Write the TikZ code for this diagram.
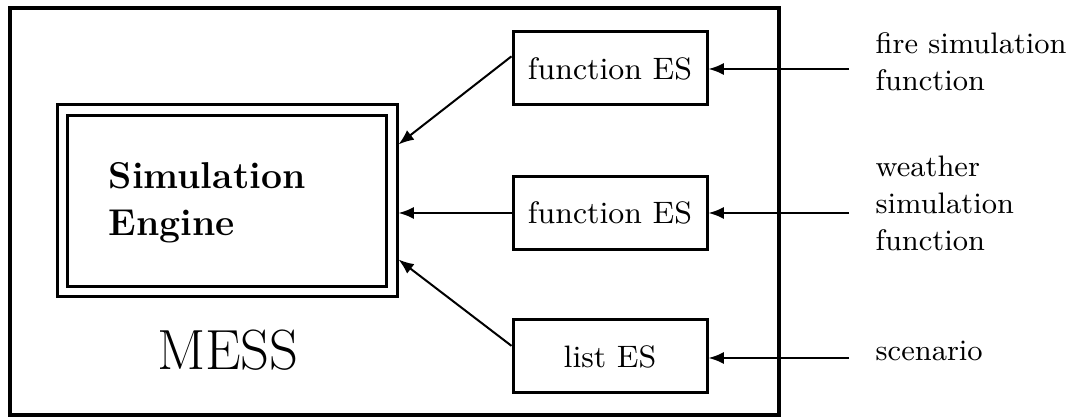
\documentclass[tikz,border=0pt]{standalone}
\usetikzlibrary{arrows.meta,calc}
\begin{document}
\begin{tikzpicture}[x=0.3pt,y=-0.3pt,
  frame/.style={draw,line width=1.2pt,inner sep=0pt},
  esbox/.style={draw,line width=0.9pt,inner sep=0pt,minimum width=58.2pt,minimum height=21.9pt,
                font=\fontsize{9.3}{11}\selectfont},
  link/.style={line width=0.6pt,-{Latex[length=4.6pt,width=3.6pt]}},
  note/.style={inner sep=0pt,align=left,font=\fontsize{8.9}{11.2}\selectfont}]
\useasboundingbox (0,0) rectangle (1071,417);

% MESS system boundary
\draw[line width=1.2pt] (10,8.5) rectangle (779,415);

% simulation engine: double-framed box
\node[draw,line width=0.9pt,inner sep=0pt,minimum width=102pt,minimum height=57.6pt] (eng) at (227,201) {};
\draw[line width=0.9pt] ([shift={(12,12)}]eng.north west) rectangle ([shift={(-12,-12)}]eng.south east);
\node[anchor=north west,inner sep=0pt,align=left,
      font=\fontsize{11.2}{14}\selectfont\bfseries] (title) at (108,162) {Simulation\\Engine};
\node[anchor=base,inner sep=0pt,font=\fontsize{17}{20}\selectfont] (name) at (228,370) {MESS};

% external services
\node[esbox] (f1) at (610,68.5) {function ES};
\node[esbox] (f2) at (610,213) {function ES};
\node[esbox] (f3) at (610,356.5) {list ES};

% inputs
\node[note,anchor=north west] (t1) at (875,32) {fire simulation\\function};
\node[note,anchor=north west] (t2) at (875,155) {weather\\simulation\\function};
\node[note,anchor=base west] (t3) at (875,361) {scenario};

\coordinate (s1) at (849,69);
\coordinate (s2) at (849,213);
\coordinate (s3) at (849,358);

\draw[link] (s1) -- (s1 -| f1.east);
\draw[link] (s2) -- (s2 -| f2.east);
\draw[link] (s3) -- (s3 -| f3.east);

% services feeding the engine
\draw[link] ($(f1.north west)!0.34!(f1.south west)$) -- ($(eng.north east)!0.21!(eng.south east)$);
\draw[link] (f2.west) -- (f2.west -| eng.east);
\draw[link] ($(f3.north west)!0.36!(f3.south west)$) -- ($(eng.north east)!0.80!(eng.south east)$);
\end{tikzpicture}
\end{document}
